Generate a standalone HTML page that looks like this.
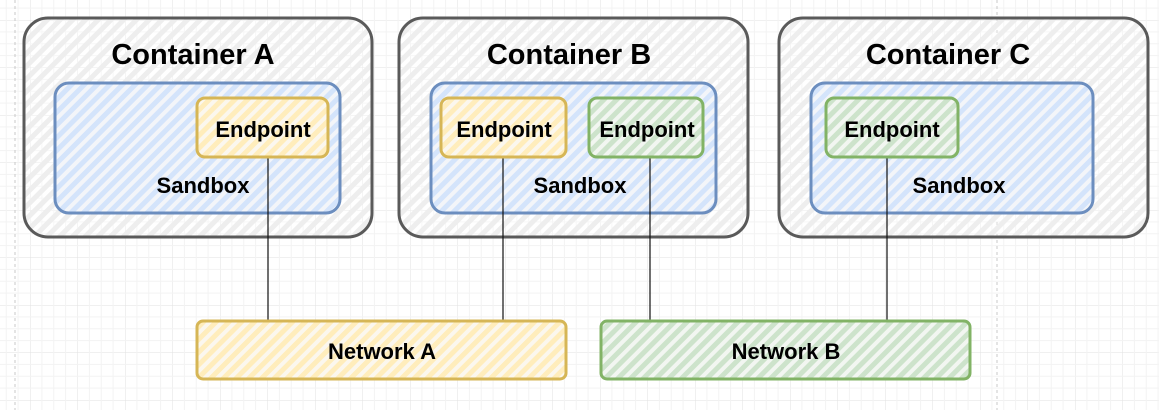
<!DOCTYPE html>
<html><head><meta charset="utf-8"><style>
html,body{margin:0;padding:0;background:#fff;}
svg{display:block;}
text{font-family:"Liberation Sans",Arial,sans-serif;font-weight:bold;fill:#000;text-anchor:middle;}
</style></head><body>
<svg width="1159" height="410" viewBox="0 0 1159 410" xmlns="http://www.w3.org/2000/svg">
<defs>
<pattern id="grid" x="30" y="20" width="47.5" height="47.5" patternUnits="userSpaceOnUse">
<path d="M0 0H47.5M0 0V47.5" stroke="#e2e2e2" stroke-width="1" fill="none"/>
<path d="M11.9 0V47.5M23.75 0V47.5M35.6 0V47.5M0 11.9H47.5M0 23.75H47.5M0 35.6H47.5" stroke="#f3f3f3" stroke-width="1" fill="none"/>
</pattern>
<pattern id="hg" width="9" height="9" patternUnits="userSpaceOnUse" patternTransform="rotate(45)"><rect width="9" height="9" fill="#fff" fill-opacity="0.3"/><rect width="5" height="9" fill="#eeeeee"/></pattern>
<pattern id="hb" width="9" height="9" patternUnits="userSpaceOnUse" patternTransform="rotate(45)"><rect width="9" height="9" fill="#f3f5f9"/><rect width="5" height="9" fill="#d4e4fb"/></pattern>
<pattern id="hy" width="9" height="9" patternUnits="userSpaceOnUse" patternTransform="rotate(45)"><rect width="9" height="9" fill="#fbf7ee"/><rect width="5" height="9" fill="#ffedbc"/></pattern>
<pattern id="hgr" width="9" height="9" patternUnits="userSpaceOnUse" patternTransform="rotate(45)"><rect width="9" height="9" fill="#f2f6f1"/><rect width="5" height="9" fill="#cde3cb"/></pattern>
</defs>
<rect width="1159" height="410" fill="#fff"/>
<rect width="1159" height="410" fill="url(#grid)"/>
<line x1="15" y1="0" x2="15" y2="410" stroke="#c8c8c8" stroke-dasharray="3,3"/>
<line x1="997" y1="0" x2="997" y2="410" stroke="#c8c8c8" stroke-dasharray="3,3"/>

<g stroke="#5a5a5a" stroke-width="3">
<rect x="24" y="18" width="348" height="219" rx="24" fill="url(#hg)"/>
<rect x="399" y="18" width="349" height="219" rx="24" fill="url(#hg)"/>
<rect x="779" y="18" width="369" height="219" rx="24" fill="url(#hg)"/>
</g>
<text x="193" y="64" font-size="29">Container A</text>
<text x="569" y="64" font-size="29">Container B</text>
<text x="948" y="64" font-size="29">Container C</text>

<g stroke="#6c8ebf" stroke-width="3" fill="url(#hb)">
<rect x="55" y="83" width="285" height="130" rx="14"/>
<rect x="431" y="83" width="285" height="130" rx="14"/>
<rect x="811" y="83" width="282" height="130" rx="14"/>
</g>
<text x="203" y="193" font-size="22">Sandbox</text>
<text x="580" y="193" font-size="22">Sandbox</text>
<text x="959" y="193" font-size="22">Sandbox</text>

<g stroke="#111" stroke-width="1.2">
<line x1="268" y1="157" x2="268" y2="320"/>
<line x1="503" y1="157" x2="503" y2="320"/>
<line x1="650" y1="157" x2="650" y2="320"/>
<line x1="887" y1="157" x2="887" y2="320"/>
</g>

<rect x="197" y="98" width="131" height="59" rx="8" fill="url(#hy)" stroke="#d6b656" stroke-width="3"/>
<rect x="441" y="98" width="125" height="59" rx="8" fill="url(#hy)" stroke="#d6b656" stroke-width="3"/>
<rect x="589" y="98" width="114" height="59" rx="8" fill="url(#hgr)" stroke="#82b366" stroke-width="3"/>
<rect x="826" y="98" width="132" height="59" rx="8" fill="url(#hgr)" stroke="#82b366" stroke-width="3"/>
<text x="263" y="137" font-size="22">Endpoint</text>
<text x="504" y="137" font-size="22">Endpoint</text>
<text x="647" y="137" font-size="22">Endpoint</text>
<text x="892" y="137" font-size="22">Endpoint</text>

<rect x="197" y="321" width="369" height="58" rx="6" fill="url(#hy)" stroke="#d6b656" stroke-width="3"/>
<rect x="601" y="321" width="369" height="58" rx="6" fill="url(#hgr)" stroke="#82b366" stroke-width="3"/>
<text x="382" y="359" font-size="22">Network A</text>
<text x="786" y="359" font-size="22">Network B</text>
</svg>
</body></html>
